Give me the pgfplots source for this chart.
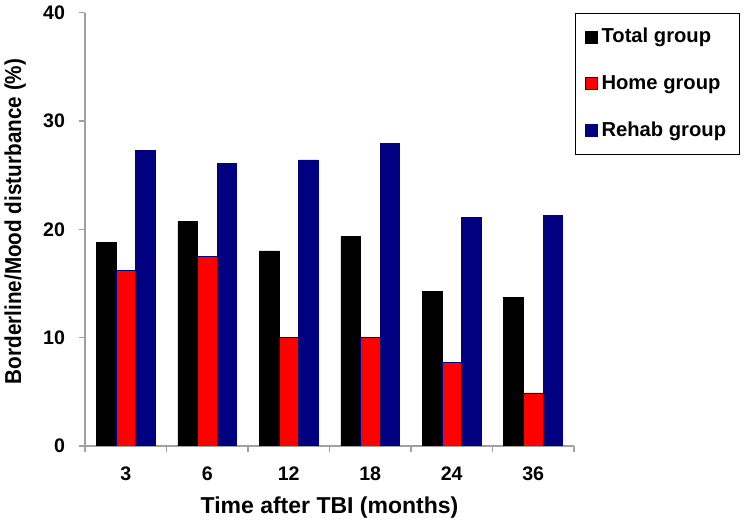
\documentclass[border=0pt]{standalone}
\usepackage{fontspec}
\setmainfont{Liberation Sans}
\usepackage{pgfplots}
\pgfplotsset{compat=1.18}
\definecolor{rehab}{HTML}{000080}
\definecolor{home}{HTML}{FF0000}
\definecolor{axgray}{HTML}{A0A0A0}

% time after TBI (months): 3 6 12 18 24 36 -> positions 0..5
\pgfplotstableread{
x total home rehab
0 18.8 16.2 27.3
1 20.7 17.5 26.1
2 18.0 10.0 26.4
3 19.3 10.0 27.9
4 14.3  7.7 21.1
5 13.7  4.9 21.3
}\bardata

\begin{document}
\begin{tikzpicture}
\useasboundingbox (-42.5pt,-39pt) rectangle (330pt,223pt);
\begin{axis}[
  scale only axis,
  width=244.5pt, height=216.7pt,
  xmin=-0.5, xmax=5.5,
  ymin=0, ymax=40,
  ytick={0,10,20,30,40},
  xtick={0,...,5},
  xticklabels={3,6,12,18,24,36},
  minor xtick={-0.5,0.5,...,5.5},
  axis x line*=bottom,
  axis y line*=left,
  axis line style={-,axgray,line width=0.6pt},
  tick style={axgray,line width=0.6pt},
  tick align=outside,
  major tick length=3pt,
  minor tick length=3pt,
  major x tick style={draw=none},
  /pgf/number format/assume math mode=true,
  ticklabel style={font=\bfseries\fontsize{9.8}{11}\selectfont},
  yticklabel style={xshift=-3.5pt},
  xticklabel style={yshift=-4pt},
  xlabel={\bfseries Time after TBI (months)},
  ylabel={\bfseries Borderline/Mood disturbance (\%)},
  label style={font=\bfseries\fontsize{11.5}{13}\selectfont},
  ylabel style={at={(axis description cs:-0.143,0.518)},anchor=center,xscale=0.9},
  xlabel style={at={(axis description cs:0.5,-0.141)},anchor=center},
  ybar,
  bar width=0.24,
  legend cell align=left,
  legend style={
    at={(1.002,1.0)}, anchor=north west,
    draw=black, line width=0.6pt,
    font=\bfseries\fontsize{10.1}{12}\selectfont,
    inner xsep=4.5pt, inner ysep=5.5pt,
    row sep=10.8pt,
    nodes={inner sep=2pt, text depth=0.15em},
  },
  legend image code/.code={
    \draw[#1, line width=0.5pt] (0pt,-3pt) rectangle (6pt,3pt);
  },
]
\addplot[fill=black, draw=black, line width=0.4pt, bar shift=-0.24]
  table[x=x, y=total] {\bardata};
\addlegendentry{Total group}
\addplot[fill=home, draw=rehab, line width=0.4pt, bar shift=0]
  table[x=x, y=home] {\bardata};
\addlegendentry{Home group}
\addplot[fill=rehab, draw=rehab, line width=0.4pt, bar shift=0.24]
  table[x=x, y=rehab] {\bardata};
\addlegendentry{Rehab group}
\end{axis}
\end{tikzpicture}
\end{document}
